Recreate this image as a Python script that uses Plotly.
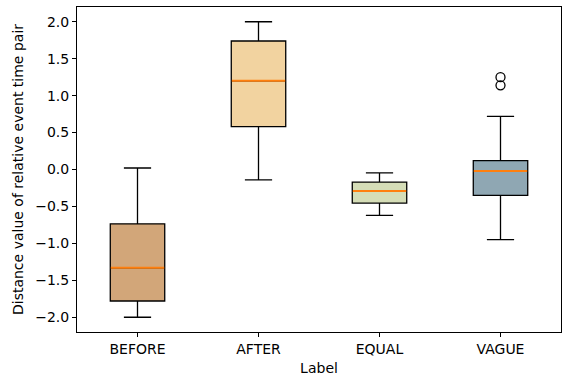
import plotly.graph_objects as go

categories = ["BEFORE", "AFTER", "EQUAL", "VAGUE"]
q1 = [-1.78, 0.58, -0.455, -0.35]
median = [-1.33, 1.20, -0.29, -0.02]
q3 = [-0.735, 1.74, -0.17, 0.12]
lower = [-2.0, -0.14, -0.62, -0.95]
upper = [0.02, 2.0, -0.045, 0.72]
outlier_cat = ["VAGUE", "VAGUE"]
outlier_val = [1.25, 1.14]
fill_colors = ["#d2a679", "#f2d3a0", "#d5ddb7", "#8fa7b3"]

positions = list(range(1, len(categories) + 1))
box_w = 0.45
font_family = "DejaVu Sans, sans-serif"

fig = go.Figure()
for i, cat in enumerate(categories):
    fig.add_trace(go.Box(
        x=[positions[i]], q1=[q1[i]], median=[median[i]], q3=[q3[i]],
        lowerfence=[lower[i]], upperfence=[upper[i]],
        width=box_w, whiskerwidth=0.5,
        fillcolor=fill_colors[i], line=dict(color="black", width=1.3),
        boxpoints=False, showlegend=False, name=cat, hoverinfo="skip",
    ))
    fig.add_trace(go.Scatter(
        x=[positions[i] - box_w / 2 + 0.004, positions[i] + box_w / 2 - 0.004],
        y=[median[i], median[i]], mode="lines",
        line=dict(color="#ff7f0e", width=2), showlegend=False, hoverinfo="skip",
    ))

ox = [positions[categories.index(c)] for c in outlier_cat]
fig.add_trace(go.Scatter(
    x=ox, y=outlier_val, mode="markers",
    marker=dict(symbol="circle-open", size=9, color="black", line=dict(width=1.3)),
    showlegend=False, hoverinfo="skip",
))

fig.update_layout(
    width=562, height=376,
    margin=dict(l=77, r=1, t=7, b=44),
    plot_bgcolor="white", paper_bgcolor="white",
    font=dict(family=font_family, size=14, color="black"),
    boxmode="overlay",
)
fig.update_xaxes(
    range=[0.5, 4.5], tickvals=positions, ticktext=categories, automargin=False,
    showline=True, linecolor="black", linewidth=1, mirror=True,
    ticks="outside", ticklen=4, tickcolor="black", showgrid=False, zeroline=False,
    title=dict(text="Label", font=dict(size=14), standoff=7),
)
fig.update_yaxes(
    range=[-2.2, 2.2], tickvals=[-2, -1.5, -1, -0.5, 0, 0.5, 1, 1.5, 2], automargin=False,
    ticktext=["\u22122.0", "\u22121.5", "\u22121.0", "\u22120.5", "0.0", "0.5", "1.0", "1.5", "2.0"],
    showline=True, linecolor="black", linewidth=1, mirror=True,
    ticks="outside", ticklen=4, tickcolor="black", showgrid=False, zeroline=False,
    title=dict(text="Distance value of relative event time pair", font=dict(size=14), standoff=8),
)

fig.write_html("out.html", config={"displayModeBar": False},
               post_script="document.body.style.margin='0';")
